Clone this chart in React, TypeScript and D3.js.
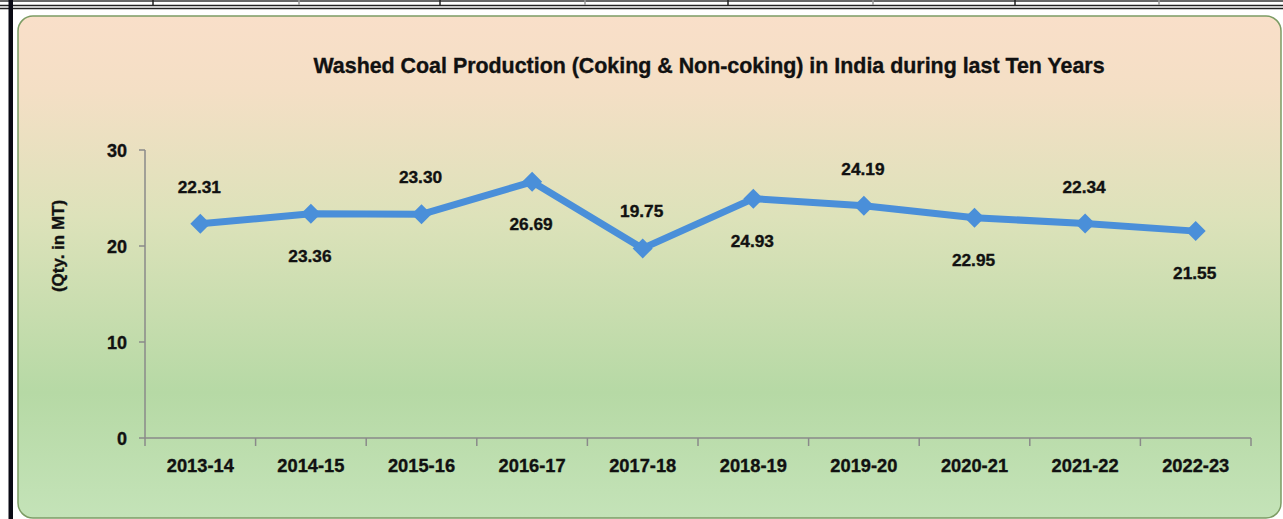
import React from "react";
import * as d3 from "d3";

const categories = ["2013-14", "2014-15", "2015-16", "2016-17", "2017-18", "2018-19", "2019-20", "2020-21", "2021-22", "2022-23"];
const production = [22.31, 23.36, 23.3, 26.69, 19.75, 24.93, 24.19, 22.95, 22.34, 21.55];
const yTicks = [0, 10, 20, 30];
const labelAbove = [true, false, true, false, true, false, true, false, true, false];
const title = "Washed Coal Production (Coking & Non-coking) in India during last Ten Years";
const yAxisTitle = "(Qty. in MT)";
const tableDividers = [153, 299, 440, 585, 728, 873, 1015, 1159];

const W = 1283;
const H = 519;
const FONT = "'Liberation Sans', Arial, sans-serif";
const TEXT_COLOR = "#111";

export default function App() {
  const x = d3.scaleBand<string>().domain(categories).range([145, 1251]);
  const y = d3.scaleLinear().domain([0, 30]).range([438, 150]);
  const cx = (c: string) => (x(c) ?? 0) + x.bandwidth() / 2;

  const line = d3
    .line<number>()
    .x((_, i) => cx(categories[i]))
    .y((d) => y(d));

  const boundaries = d3.range(categories.length + 1).map((i) => 145 + i * x.bandwidth());
  const heavy = { stroke: TEXT_COLOR, strokeWidth: 0.35 };

  return (
    <svg
      width={W}
      height={H}
      style={{ position: "absolute", left: 0, top: 0, display: "block" }}
      fontFamily={FONT}
    >
      <defs>
        <linearGradient id="bg" x1="0" y1="0" x2="0" y2="1">
          <stop offset="0%" stopColor="#f9dfc9" />
          <stop offset="15%" stopColor="#f4dfc5" />
          <stop offset="40%" stopColor="#dde2ba" />
          <stop offset="75%" stopColor="#b6d9a5" />
          <stop offset="100%" stopColor="#c4e3b8" />
        </linearGradient>
      </defs>
      <rect x={0} y={0} width={W} height={H} fill="#ffffff" />
      {/* table remnants at top */}
      <line x1={0} x2={W} y1={1} y2={1} stroke="#333" strokeWidth={1.5} />
      <line x1={0} x2={W} y1={5.5} y2={5.5} stroke="#222" strokeWidth={1.3} />
      <line x1={0} x2={W} y1={8.5} y2={8.5} stroke="#222" strokeWidth={1.3} />
      {tableDividers.map((d, i) => (
        <line key={i} x1={d} x2={d} y1={0} y2={5} stroke={i % 2 === 0 ? "#222" : "#999"} strokeWidth={1.5} />
      ))}
      <rect x={8.5} y={0} width={4.5} height={H} fill="#0a0a14" />
      {/* chart area */}
      <rect x={18} y={16} width={1263} height={502} rx={15} ry={15} fill="url(#bg)" stroke="#7c9c64" strokeWidth={1.5} />

      <text x={709} y={73} textAnchor="middle" fontSize={21.4} fontWeight="bold" fill={TEXT_COLOR} {...heavy}>
        {title}
      </text>

      {/* y axis */}
      <line x1={145} x2={145} y1={y(30)} y2={y(0)} stroke="#8a8a8a" strokeWidth={1.5} />
      {yTicks.map((t) => (
        <g key={t}>
          <line x1={139} x2={145} y1={y(t)} y2={y(t)} stroke="#8a8a8a" strokeWidth={1.5} />
          <text x={127} y={y(t) + 7} textAnchor="end" fontSize={18} fontWeight="bold" fill={TEXT_COLOR} {...heavy}>
            {t}
          </text>
        </g>
      ))}
      <text
        transform={`translate(64,246) rotate(-90)`}
        textAnchor="middle"
        fontSize={17}
        fontWeight="bold"
        fill={TEXT_COLOR}
        {...heavy}
      >
        {yAxisTitle}
      </text>

      {/* x axis */}
      <line x1={145} x2={1251} y1={y(0)} y2={y(0)} stroke="#8a8a8a" strokeWidth={1.5} />
      {boundaries.map((b, i) => (
        <line key={i} x1={b} x2={b} y1={y(0)} y2={y(0) + 8} stroke="#8a8a8a" strokeWidth={1.5} />
      ))}
      {categories.map((c) => (
        <text key={c} x={cx(c)} y={472} textAnchor="middle" fontSize={18.3} fontWeight="bold" fill={TEXT_COLOR} {...heavy}>
          {c}
        </text>
      ))}

      {/* series */}
      <path d={line(production) ?? ""} fill="none" stroke="#4a8fd9" strokeWidth={7} strokeLinejoin="round" />
      {production.map((v, i) => {
        const px = cx(categories[i]);
        const py = y(v);
        return (
          <path
            key={i}
            d={`M${px},${py - 10}L${px + 10},${py}L${px},${py + 10}L${px - 10},${py}Z`}
            fill="#4a8fd9"
          />
        );
      })}
      {production.map((v, i) => {
        const px = cx(categories[i]);
        const py = y(v);
        return (
          <text
            key={i}
            x={px - 1}
            y={labelAbove[i] ? py - 31 : py + 48}
            textAnchor="middle"
            fontSize={17.3}
            fontWeight="bold"
            fill={TEXT_COLOR}
            {...heavy}
          >
            {v.toFixed(2)}
          </text>
        );
      })}
    </svg>
  );
}
